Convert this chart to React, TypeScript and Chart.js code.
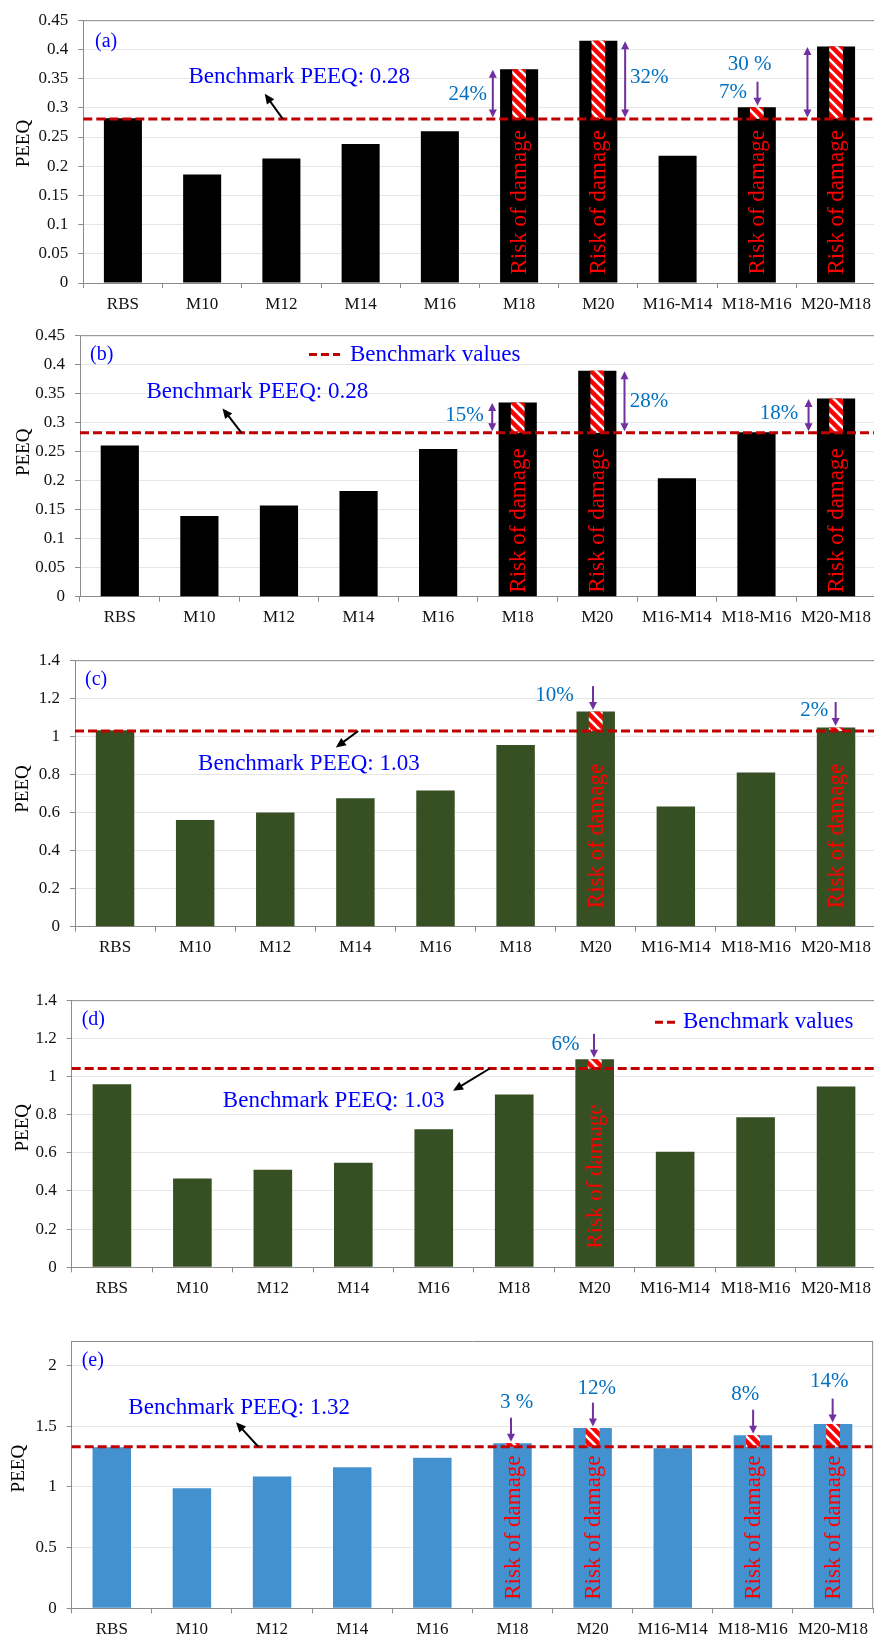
import React, { useEffect, useRef } from 'react';
import { Chart, registerables } from 'chart.js';

Chart.register(...registerables);

const SERIF = '"Liberation Serif", "Times New Roman", serif';

// ---------------- data ----------------
const categories = ['RBS', 'M10', 'M12', 'M14', 'M16', 'M18', 'M20', 'M16-M14', 'M18-M16', 'M20-M18'];

const valuesA = [0.282, 0.186, 0.213, 0.238, 0.26, 0.366, 0.415, 0.218, 0.301, 0.405];
const valuesB = [0.26, 0.139, 0.157, 0.182, 0.254, 0.334, 0.389, 0.204, 0.283, 0.341];
const valuesC = [1.032, 0.56, 0.6, 0.675, 0.716, 0.954, 1.13, 0.631, 0.81, 1.046];
const valuesD = [0.959, 0.466, 0.511, 0.548, 0.724, 0.906, 1.09, 0.606, 0.787, 0.948];
const valuesE = [1.326, 0.988, 1.084, 1.161, 1.24, 1.359, 1.483, 1.318, 1.425, 1.516];

const benchA = 0.281;
const benchB = 0.282;
const benchC = 1.028;
const benchD = 1.042;
const benchE = 1.33;

const riskA = [false, false, false, false, false, true, true, false, true, true];
const riskB = [false, false, false, false, false, true, true, false, false, true];
const riskC = [false, false, false, false, false, false, true, false, false, true];
const riskD = [false, false, false, false, false, false, true, false, false, false];
const riskE = [false, false, false, false, false, true, true, false, true, true];

const benchLabelA = 'Benchmark PEEQ: 0.28';
const benchLabelB = 'Benchmark PEEQ: 0.28';
const benchLabelC = 'Benchmark PEEQ: 1.03';
const benchLabelD = 'Benchmark PEEQ: 1.03';
const benchLabelE = 'Benchmark PEEQ: 1.32';

type Ann = { i: number; kind: 'double' | 'down'; ax: number; text: string; tx: number; ty: number };

const annA: Ann[] = [
  { i: 5, kind: 'double', ax: -26.3, text: '24%', tx: -25, ty: 0.5 },
  { i: 6, kind: 'double', ax: 26.8, text: '32%', tx: 24, ty: -2 },
  { i: 8, kind: 'down', ax: 0.7, text: '7%', tx: -24.6, ty: -1 },
  { i: 9, kind: 'double', ax: -28.6, text: '30 %', tx: -57.8, ty: -18 },
];
const annB: Ann[] = [
  { i: 5, kind: 'double', ax: -25.5, text: '15%', tx: -27.7, ty: -1.3 },
  { i: 6, kind: 'double', ax: 27.2, text: '28%', tx: 24.5, ty: 0 },
  { i: 9, kind: 'double', ax: -27.5, text: '18%', tx: -29.6, ty: -1.5 },
];
const annC: Ann[] = [
  { i: 6, kind: 'down', ax: -2.7, text: '10%', tx: -38.6, ty: -3 },
  { i: 9, kind: 'down', ax: -0.4, text: '2%', tx: -21.5, ty: -4 },
];
const annD: Ann[] = [{ i: 6, kind: 'down', ax: -0.7, text: '6%', tx: -28.4, ty: -1 }];
const annE: Ann[] = [
  { i: 5, kind: 'down', ax: -1.5, text: '3 %', tx: 5.7, ty: -26.8 },
  { i: 6, kind: 'down', ax: 0.3, text: '12%', tx: 3.7, ty: -26.3 },
  { i: 8, kind: 'down', ax: 0.2, text: '8%', tx: -7.8, ty: -26.9 },
  { i: 9, kind: 'down', ax: -0.4, text: '14%', tx: -3.4, ty: -29.4 },
];

interface Panel {
  id: string;
  label: string;
  top: number;
  height: number;
  width: number;
  yw: number;
  padTop: number;
  xh: number;
  max: number;
  step: number;
  values: number[];
  color: string;
  bench: number;
  risk: boolean[];
  riskGap: number;
  benchLabel: string;
  benchAt: [number, number];
  arrowFromI: number;
  arrowTo: [number, number];
  ann: Ann[];
  legend: null | { x: number; y: number; len: number; gap: number };
  titleX: number;
  titleDy: number;
  labelDx: number;
  labelDy: number;
}

const panels: Panel[] = [
  {
    id: 'a', label: '(a)', top: 0, height: 315, width: 877, yw: 83.3, padTop: 15, xh: 32,
    max: 0.45, step: 0.05, values: valuesA, color: '#000000', bench: benchA, risk: riskA, riskGap: 8,
    benchLabel: benchLabelA, benchAt: [2.225, 0.352], arrowFromI: 2.017, arrowTo: [1.79, 0.324],
    ann: annA, legend: null, titleX: 24, titleDy: -8, labelDx: 11.7, labelDy: 22,
  },
  {
    id: 'b', label: '(b)', top: 315, height: 325, width: 877, yw: 80, padTop: 14, xh: 43.3,
    max: 0.45, step: 0.05, values: valuesB, color: '#000000', bench: benchB, risk: riskB, riskGap: 3.5,
    benchLabel: benchLabelB, benchAt: [1.728, 0.353], arrowFromI: 1.53, arrowTo: [1.291, 0.324],
    ann: annB, legend: { x: 229, y: 19.3, len: 31, gap: 10 }, titleX: 24, titleDy: -13.6, labelDx: 10, labelDy: 20,
  },
  {
    id: 'c', label: '(c)', top: 640, height: 340, width: 877, yw: 75, padTop: 19, xh: 53.3,
    max: 1.4, step: 0.2, values: valuesC, color: '#364F23', bench: benchC, risk: riskC, riskGap: 18,
    benchLabel: benchLabelC, benchAt: [2.42, 0.856], arrowFromI: 3.035, arrowTo: [2.756, 0.941],
    ann: annC, legend: null, titleX: 23.3, titleDy: -4.5, labelDx: 10, labelDy: 20,
  },
  {
    id: 'd', label: '(d)', top: 980, height: 340, width: 877, yw: 71.7, padTop: 20, xh: 52.7,
    max: 1.4, step: 0.2, values: valuesD, color: '#364F23', bench: benchD, risk: riskD, riskGap: 18,
    benchLabel: benchLabelD, benchAt: [2.756, 0.873], arrowFromI: 4.696, arrowTo: [4.24, 0.925],
    ann: annD, legend: { x: 583.3, y: 22, len: 21, gap: 7 }, titleX: 23.3, titleDy: -6, labelDx: 10, labelDy: 20,
  },
  {
    id: 'e', label: '(e)', top: 1320, height: 319, width: 874, yw: 71.7, padTop: 21, xh: 30.7,
    max: 2.2, step: 0.5, values: valuesE, color: '#4391CE', bench: benchE, risk: riskE, riskGap: 8,
    benchLabel: benchLabelE, benchAt: [1.59, 1.647], arrowFromI: 1.828, arrowTo: [1.55, 1.532],
    ann: annE, legend: null, titleX: 19.2, titleDy: -6, labelDx: 10, labelDy: 19.7,
  },
];

// ---------------- drawing helpers ----------------
function makeStripePattern(ctx: CanvasRenderingContext2D) {
  const s = 10;
  const c = document.createElement('canvas');
  c.width = s;
  c.height = s;
  const g = c.getContext('2d')!;
  g.fillStyle = '#FF0000';
  g.fillRect(0, 0, s, s);
  g.strokeStyle = '#FFFFFF';
  g.lineWidth = 2.6;
  for (const o of [-s, 0, s]) {
    g.beginPath();
    g.moveTo(o - 2, -2);
    g.lineTo(o + s + 2, s + 2);
    g.stroke();
  }
  return ctx.createPattern(c, 'repeat');
}

function head(ctx: CanvasRenderingContext2D, x1: number, y1: number, x2: number, y2: number, len: number, half: number) {
  const a = Math.atan2(y2 - y1, x2 - x1);
  const c = Math.cos(a);
  const s = Math.sin(a);
  ctx.beginPath();
  ctx.moveTo(x2, y2);
  ctx.lineTo(x2 - len * c + half * s, y2 - len * s - half * c);
  ctx.lineTo(x2 - len * c - half * s, y2 - len * s + half * c);
  ctx.closePath();
  ctx.fill();
}

function arrow(
  ctx: CanvasRenderingContext2D,
  x1: number, y1: number, x2: number, y2: number,
  color: string, lw: number, len: number, half: number, both: boolean,
) {
  const a = Math.atan2(y2 - y1, x2 - x1);
  const c = Math.cos(a);
  const s = Math.sin(a);
  ctx.save();
  ctx.strokeStyle = color;
  ctx.fillStyle = color;
  ctx.lineWidth = lw;
  ctx.setLineDash([]);
  ctx.beginPath();
  const sx = both ? x1 + len * 0.7 * c : x1;
  const sy = both ? y1 + len * 0.7 * s : y1;
  ctx.moveTo(sx, sy);
  ctx.lineTo(x2 - len * 0.7 * c, y2 - len * 0.7 * s);
  ctx.stroke();
  head(ctx, x1, y1, x2, y2, len, half);
  if (both) head(ctx, x2, y2, x1, y1, len, half);
  ctx.restore();
}

function PanelChart({ p }: { p: Panel }) {
  const ref = useRef<HTMLCanvasElement>(null);

  useEffect(() => {
    const canvas = ref.current!;
    const overlay = {
      id: 'overlay_' + p.id,
      afterDatasetsDraw(chart: any) {
        const ctx: CanvasRenderingContext2D = chart.ctx;
        const area = chart.chartArea;
        const y = chart.scales.y;
        const meta = chart.getDatasetMeta(0);
        const by = y.getPixelForValue(p.bench);
        const pattern = makeStripePattern(ctx);

        // striped overshoot
        meta.data.forEach((el: any, i: number) => {
          if (!p.risk[i]) return;
          const w = el.width * 0.36;
          ctx.save();
          ctx.fillStyle = pattern as any;
          ctx.fillRect(el.x - w / 2, el.y, w, by - el.y);
          ctx.restore();
        });

        // benchmark line
        ctx.save();
        ctx.strokeStyle = '#C00000';
        ctx.lineWidth = 3;
        ctx.setLineDash([9, 4]);
        ctx.beginPath();
        ctx.moveTo(area.left, by);
        ctx.lineTo(area.right, by);
        ctx.stroke();
        ctx.restore();

        // Risk of damage text
        meta.data.forEach((el: any, i: number) => {
          if (!p.risk[i]) return;
          ctx.save();
          ctx.translate(el.x, el.base - p.riskGap);
          ctx.rotate(-Math.PI / 2);
          ctx.fillStyle = '#FF0000';
          ctx.font = `23px ${SERIF}`;
          ctx.textAlign = 'left';
          ctx.textBaseline = 'middle';
          ctx.fillText('Risk of damage', 0, 1);
          ctx.restore();
        });
      },
      afterDraw(chart: any) {
        const ctx: CanvasRenderingContext2D = chart.ctx;
        const area = chart.chartArea;
        const x = chart.scales.x;
        const y = chart.scales.y;
        const meta = chart.getDatasetMeta(0);
        const by = y.getPixelForValue(p.bench);

        // frame (top and right)
        ctx.save();
        ctx.strokeStyle = '#8C8C8C';
        ctx.lineWidth = 1;
        ctx.beginPath();
        ctx.moveTo(area.left, area.top + 0.5);
        ctx.lineTo(area.right, area.top + 0.5);
        ctx.moveTo(area.right - 0.5, area.top);
        ctx.lineTo(area.right - 0.5, area.bottom);
        ctx.stroke();
        ctx.restore();

        // percentage annotations
        p.ann.forEach((a) => {
          const el = meta.data[a.i];
          const ax = el.x + a.ax;
          let y1: number;
          let y2: number;
          if (a.kind === 'double') {
            y1 = el.y + 0.5;
            y2 = by - 1.5;
            arrow(ctx, ax, y2, ax, y1, '#7030A0', 2, 8, 4, true);
          } else {
            y2 = el.y - 1.5;
            y1 = y2 - 24;
            arrow(ctx, ax, y1, ax, y2, '#7030A0', 2, 8, 4, false);
          }
          const my = (y1 + y2) / 2;
          ctx.save();
          ctx.fillStyle = '#0070C0';
          ctx.font = `21px ${SERIF}`;
          ctx.textAlign = 'center';
          ctx.textBaseline = 'middle';
          ctx.fillText(a.text, ax + a.tx, my + a.ty);
          ctx.restore();
        });

        // benchmark label + arrow
        ctx.save();
        ctx.fillStyle = '#0000FF';
        ctx.font = `23px ${SERIF}`;
        ctx.textAlign = 'center';
        ctx.textBaseline = 'middle';
        ctx.fillText(p.benchLabel, x.getPixelForValue(p.benchAt[0]), y.getPixelForValue(p.benchAt[1]));
        ctx.restore();
        arrow(
          ctx,
          x.getPixelForValue(p.arrowFromI), by,
          x.getPixelForValue(p.arrowTo[0]), y.getPixelForValue(p.arrowTo[1]),
          '#000000', 2, 10, 4.5, false,
        );

        // legend
        if (p.legend) {
          const lx = area.left + p.legend.x;
          const ly = area.top + p.legend.y;
          ctx.save();
          ctx.strokeStyle = '#C00000';
          ctx.lineWidth = 3;
          ctx.setLineDash([8, 4]);
          ctx.beginPath();
          ctx.moveTo(lx, ly);
          ctx.lineTo(lx + p.legend.len, ly);
          ctx.stroke();
          ctx.setLineDash([]);
          ctx.fillStyle = '#0000FF';
          ctx.font = `23px ${SERIF}`;
          ctx.textAlign = 'left';
          ctx.textBaseline = 'middle';
          ctx.fillText('Benchmark values', lx + p.legend.len + p.legend.gap, ly);
          ctx.restore();
        }

        // panel label
        ctx.save();
        ctx.fillStyle = '#0000FF';
        ctx.font = `20px ${SERIF}`;
        ctx.textAlign = 'left';
        ctx.textBaseline = 'middle';
        ctx.fillText(p.label, area.left + p.labelDx, area.top + p.labelDy);
        ctx.restore();

        // y title
        ctx.save();
        ctx.translate(p.titleX, (area.top + area.bottom) / 2 + p.titleDy);
        ctx.rotate(-Math.PI / 2);
        ctx.fillStyle = '#000000';
        ctx.font = `19px ${SERIF}`;
        ctx.textAlign = 'center';
        ctx.textBaseline = 'middle';
        ctx.fillText('PEEQ', 0, 0);
        ctx.restore();
      },
    };

    const chart = new Chart(canvas, {
      type: 'bar',
      data: {
        labels: categories,
        datasets: [
          {
            data: p.values,
            backgroundColor: p.color,
            borderWidth: 0,
            barPercentage: 0.48,
            categoryPercentage: 1,
          },
        ],
      },
      options: {
        animation: false,
        responsive: false,
        events: [],
        layout: { padding: { top: p.padTop, left: 0, right: 0, bottom: 0 } },
        plugins: { legend: { display: false }, tooltip: { enabled: false } },
        scales: {
          x: {
            type: 'category',
            offset: true,
            grid: {
              display: true,
              drawOnChartArea: false,
              drawTicks: true,
              tickLength: 5,
              color: '#8C8C8C',
              offset: true,
            },
            border: { display: true, color: '#8C8C8C', width: 1 },
            ticks: {
              color: '#111111',
              font: { size: 17, family: SERIF },
              padding: 6,
              maxRotation: 0,
              minRotation: 0,
              autoSkip: false,
            },
            afterFit: (s: any) => {
              s.height = p.xh;
            },
          },
          y: {
            min: 0,
            max: p.max,
            grid: { color: '#E6E6E6', tickColor: '#8C8C8C', tickLength: 5, drawTicks: true },
            border: { display: true, color: '#8C8C8C', width: 1 },
            ticks: {
              stepSize: p.step,
              includeBounds: false,
              padding: 10,
              color: '#111111',
              font: { size: 17, family: SERIF },
              callback: (v: any) => String(Number(Number(v).toFixed(2))),
            },
            afterFit: (s: any) => {
              s.width = p.yw;
            },
          },
        },
      } as any,
      plugins: [overlay],
    });
    return () => chart.destroy();
  }, [p]);

  return (
    <canvas
      ref={ref}
      width={p.width}
      height={p.height}
      style={{ position: 'absolute', left: 0, top: p.top, width: p.width, height: p.height, display: 'block' }}
    />
  );
}

export default function App() {
  return (
    <div
      style={{
        position: 'absolute',
        left: 0,
        top: 0,
        width: 874,
        height: 1639,
        overflow: 'hidden',
        background: '#ffffff',
      }}
    >
      {panels.map((p) => (
        <PanelChart key={p.id} p={p} />
      ))}
    </div>
  );
}
